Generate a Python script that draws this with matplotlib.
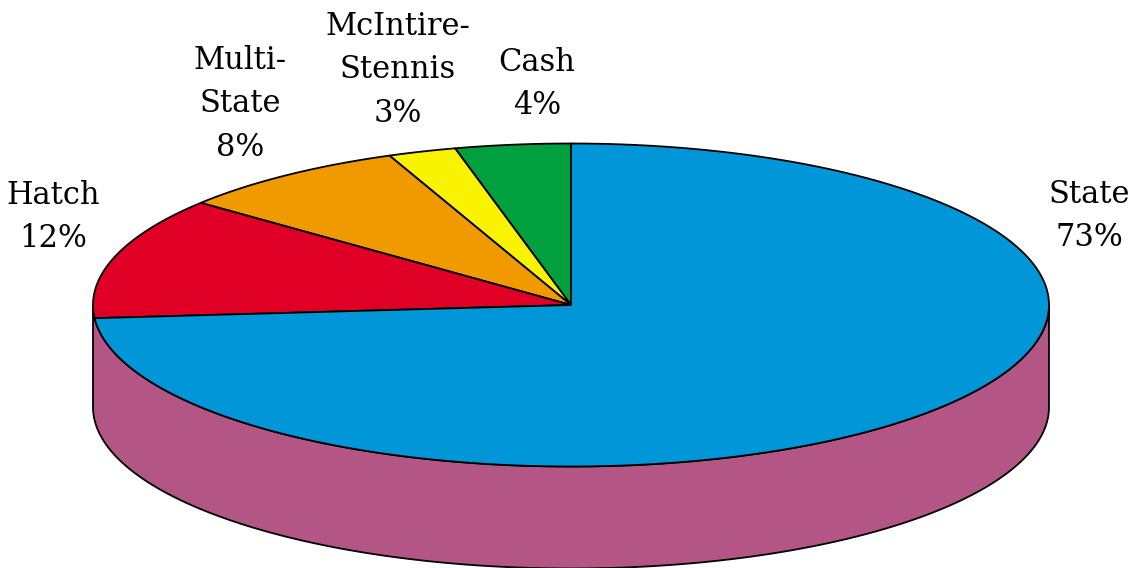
import numpy as np
import matplotlib
matplotlib.use("Agg")
import matplotlib.pyplot as plt
from matplotlib.patches import Polygon

# shares, counter-clockwise from 12 o'clock
names = ["Cash", "McIntire-\nStennis", "Multi-\nState", "Hatch", "State"]
shares = [3.9, 2.3, 7.9, 12.2, 73.7]
pct_labels = ["4%", "3%", "8%", "12%", "73%"]
colors = ["#00A03E", "#F9F200", "#F09A00", "#E00025", "#0096D8"]
side_color = "#B35585"

# geometry of the tilted disc (pixels)
cx, cy = 571, 305
rx, ry = 478, 161.5
depth = 102


def ell(t_deg, dy=0.0):
    t = np.radians(t_deg)
    return np.column_stack([cx + rx * np.cos(t), cy - ry * np.sin(t) + dy])


fig = plt.figure(figsize=(11.36, 5.68), dpi=100)
ax = fig.add_axes([0, 0, 1, 1])
ax.set_xlim(0, 1136)
ax.set_ylim(568, 0)
ax.axis('off')

# side wall (front half)
front = np.linspace(180, 360, 200)
side = np.vstack([ell(front), ell(front[::-1], depth)])
ax.add_patch(Polygon(side, closed=True, facecolor=side_color, edgecolor='black', lw=1.3))

# top slices
bounds = 90 + 360 * np.concatenate([[0], np.cumsum(shares)]) / sum(shares)
for i, col in enumerate(colors):
    t = np.linspace(bounds[i], bounds[i + 1], 300)
    pts = np.vstack([[cx, cy], ell(t)])
    ax.add_patch(Polygon(pts, closed=True, facecolor=col, edgecolor='black', lw=1.3, joinstyle='round'))

# labels
label_pos = [(537, 84), (398, 70), (240, 104), (53, 217), (1089, 216)]
for name, pct, (x, y) in zip(names, pct_labels, label_pos):
    ax.text(x, y, name + "\n" + pct, ha='center', va='center', family='DejaVu Serif',
            fontsize=22, linespacing=1.52)

fig.savefig("out.png", dpi=100)
